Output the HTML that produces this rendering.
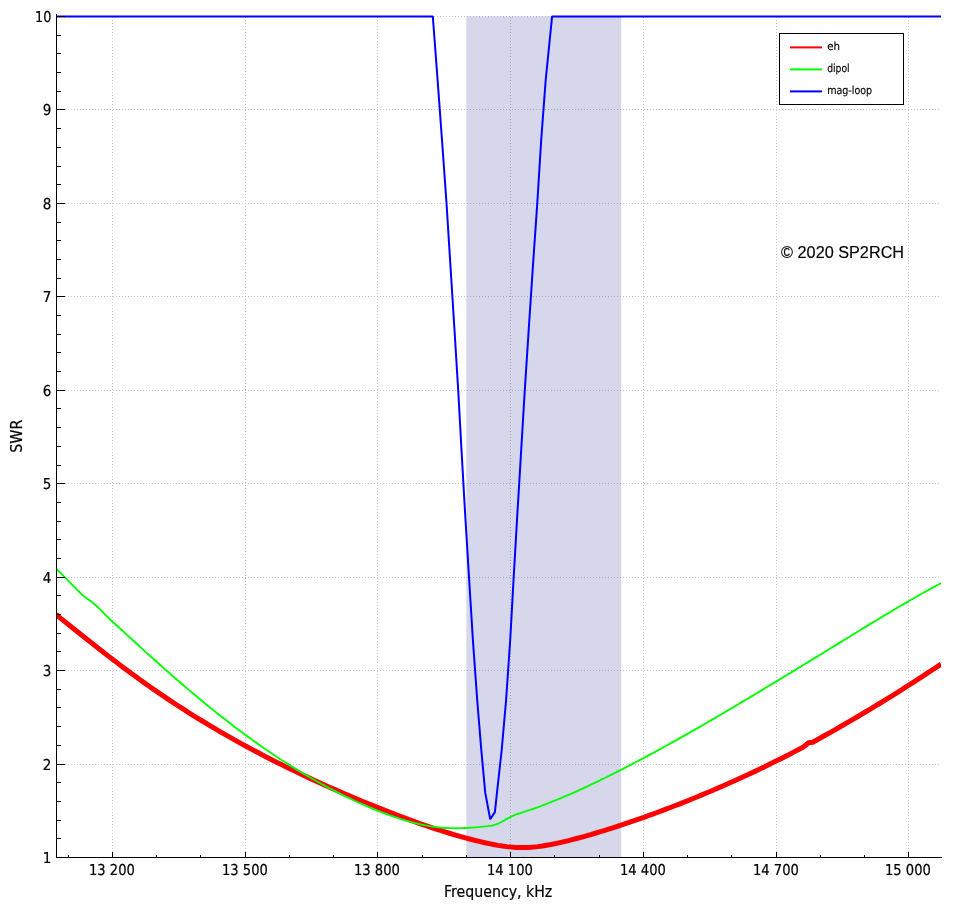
<!DOCTYPE html>
<html lang="en">
<head>
<meta charset="utf-8">
<title>SWR vs Frequency</title>
<style>
html,body{margin:0;padding:0;background:#fff;}
body{width:956px;height:907px;overflow:hidden;font-family:"Liberation Sans",sans-serif;}
svg{display:block;}
</style>
</head>
<body>
<svg width="956" height="907" viewBox="0 0 956 907">
<rect x="0" y="0" width="956" height="907" fill="#fff"/>
<g stroke="#c8c8c8" stroke-width="1" stroke-dasharray="1 2" shape-rendering="crispEdges" fill="none">
<line x1="56" y1="764.5" x2="941" y2="764.5"/>
<line x1="56" y1="670.5" x2="941" y2="670.5"/>
<line x1="56" y1="577.5" x2="941" y2="577.5"/>
<line x1="56" y1="483.5" x2="941" y2="483.5"/>
<line x1="56" y1="390.5" x2="941" y2="390.5"/>
<line x1="56" y1="296.5" x2="941" y2="296.5"/>
<line x1="56" y1="203.5" x2="941" y2="203.5"/>
<line x1="56" y1="109.5" x2="941" y2="109.5"/>
<line x1="56" y1="16.5" x2="941" y2="16.5"/>
<line x1="112.5" y1="858" x2="112.5" y2="16"/>
<line x1="245.5" y1="858" x2="245.5" y2="16"/>
<line x1="377.5" y1="858" x2="377.5" y2="16"/>
<line x1="510.5" y1="858" x2="510.5" y2="16"/>
<line x1="643.5" y1="858" x2="643.5" y2="16"/>
<line x1="776.5" y1="858" x2="776.5" y2="16"/>
<line x1="908.5" y1="858" x2="908.5" y2="16"/>
</g>
<rect x="466.35" y="16.4" width="154.87" height="841.6" fill="rgb(0,0,128)" fill-opacity="0.157"/>
<clipPath id="c"><rect x="56" y="13" width="885" height="847"/></clipPath>
<g clip-path="url(#c)" fill="none" stroke-linejoin="round" stroke-linecap="butt">
<path d="M56.0,614.55 L60.4,618.09 L64.8,621.64 L69.3,625.18 L73.7,628.72 L78.1,632.26 L82.5,635.78 L86.9,639.30 L91.4,642.80 L95.8,646.28 L100.2,649.75 L104.6,653.20 L109.0,656.62 L113.5,660.02 L117.9,663.39 L122.3,666.73 L126.7,670.03 L131.1,673.30 L135.6,676.53 L140.0,679.73 L144.4,682.88 L148.8,686.01 L153.2,689.09 L157.7,692.14 L162.1,695.15 L166.5,698.13 L170.9,701.08 L175.3,703.99 L179.8,706.87 L184.2,709.71 L188.6,712.52 L193.0,715.30 L197.4,718.05 L201.9,720.76 L206.3,723.45 L210.7,726.10 L215.1,728.72 L219.5,731.31 L224.0,733.88 L228.4,736.41 L232.8,738.91 L237.2,741.38 L241.6,743.83 L246.1,746.24 L250.5,748.63 L254.9,750.99 L259.3,753.33 L263.7,755.64 L268.2,757.92 L272.6,760.17 L277.0,762.41 L281.4,764.61 L285.8,766.80 L290.3,768.96 L294.7,771.09 L299.1,773.21 L303.5,775.30 L307.9,777.37 L312.4,779.42 L316.8,781.45 L321.2,783.46 L325.6,785.44 L330.0,787.41 L334.5,789.36 L338.9,791.29 L343.3,793.20 L347.7,795.10 L352.1,796.98 L356.6,798.83 L361.0,800.68 L365.4,802.50 L369.8,804.32 L374.2,806.11 L378.7,807.89 L383.1,809.65 L387.5,811.40 L391.9,813.13 L396.3,814.84 L400.8,816.53 L405.2,818.19 L409.6,819.83 L414.0,821.44 L418.4,823.03 L422.9,824.58 L427.3,826.10 L431.7,827.60 L436.1,829.06 L440.5,830.48 L445.0,831.88 L449.4,833.24 L453.8,834.56 L458.2,835.85 L462.6,837.11 L467.1,838.32 L471.5,839.49 L475.9,840.62 L480.3,841.69 L484.7,842.71 L489.2,843.67 L493.6,844.55 L498.0,845.35 L502.4,846.04 L506.8,846.63 L511.3,847.09 L515.7,847.40 L520.1,847.56 L524.5,847.56 L528.9,847.40 L533.4,847.08 L537.8,846.62 L542.2,846.03 L546.6,845.32 L551.0,844.52 L555.5,843.63 L559.9,842.67 L564.3,841.65 L568.7,840.57 L573.1,839.44 L577.6,838.27 L582.0,837.06 L586.4,835.82 L590.8,834.54 L595.2,833.24 L599.7,831.91 L604.1,830.55 L608.5,829.17 L612.9,827.76 L617.3,826.33 L621.8,824.87 L626.2,823.40 L630.6,821.90 L635.0,820.38 L639.4,818.84 L643.9,817.28 L648.3,815.70 L652.7,814.10 L657.1,812.48 L661.5,810.84 L666.0,809.18 L670.4,807.50 L674.8,805.79 L679.2,804.07 L683.6,802.33 L688.1,800.56 L692.5,798.78 L696.9,796.98 L701.3,795.15 L705.7,793.30 L710.2,791.44 L714.6,789.55 L719.0,787.64 L723.4,785.71 L727.8,783.76 L732.3,781.79 L736.7,779.80 L741.1,777.78 L745.5,775.74 L749.9,773.69 L754.4,771.61 L758.8,769.50 L763.2,767.38 L767.6,765.23 L772.0,763.06 L776.5,760.87 L780.9,758.66 L785.3,756.42 L789.7,754.16 L794.1,751.88 L798.6,749.57 L803.0,747.24 L808.6,742.70 L812.8,742.19 L817.2,739.75 L821.6,737.28 L826.1,734.81 L830.5,732.31 L834.9,729.80 L839.3,727.27 L843.7,724.73 L848.2,722.16 L852.6,719.58 L857.0,716.99 L861.4,714.37 L865.8,711.74 L870.3,709.09 L874.7,706.42 L879.1,703.74 L883.5,701.03 L887.9,698.31 L892.4,695.57 L896.8,692.81 L901.2,690.03 L905.6,687.23 L910.0,684.41 L914.5,681.57 L918.9,678.72 L923.3,675.84 L927.7,672.94 L932.1,670.02 L936.6,667.08 L941.0,664.12" stroke="#f00" stroke-width="5"/>
<path d="M54.5,567.00 L56.9,569.40 L65.1,577.60 L74.0,586.60 L82.7,595.30 L87.0,598.50 L91.5,601.60 L96.0,605.50 L100.3,609.60 L106.0,615.40 L111.6,621.00 L116.0,624.69 L120.4,628.79 L124.8,632.88 L129.3,636.96 L133.7,641.02 L138.1,645.06 L142.5,649.08 L146.9,653.09 L151.4,657.08 L155.8,661.04 L160.2,664.99 L164.6,668.91 L169.0,672.80 L173.5,676.67 L177.9,680.51 L182.3,684.32 L186.7,688.11 L191.1,691.86 L195.6,695.58 L200.0,699.27 L204.4,702.92 L208.8,706.53 L213.2,710.12 L217.7,713.66 L222.1,717.16 L226.5,720.62 L230.9,724.04 L235.3,727.42 L239.8,730.76 L244.2,734.04 L248.6,737.29 L253.0,740.48 L257.4,743.64 L261.9,746.74 L266.3,749.80 L270.7,752.81 L275.1,755.78 L279.5,758.69 L284.0,761.56 L288.4,764.38 L292.8,767.15 L297.2,769.88 L301.6,772.55 L306.1,775.18 L310.5,777.76 L314.9,780.29 L319.3,782.76 L323.7,785.19 L328.2,787.57 L332.6,789.89 L337.0,792.17 L341.4,794.39 L345.8,796.56 L350.3,798.68 L354.7,800.75 L359.1,802.77 L363.5,804.73 L367.9,806.64 L372.4,808.50 L376.8,810.30 L381.2,812.05 L385.6,813.74 L390.0,815.37 L394.5,816.93 L398.9,818.41 L403.3,819.80 L407.7,821.11 L412.1,822.33 L416.6,823.45 L421.0,824.46 L425.4,825.36 L429.8,826.15 L434.2,826.81 L438.7,827.34 L443.1,827.74 L447.5,828.02 L451.9,828.17 L456.3,828.21 L460.8,828.15 L465.2,827.99 L469.6,827.76 L474.0,827.45 L478.4,827.08 L482.9,826.65 L487.3,826.18 L492.0,825.60 L495.3,824.60 L498.9,823.30 L502.0,821.70 L505.5,819.60 L510.2,817.10 L513.5,815.50 L516.8,814.22 L521.2,812.84 L525.6,811.41 L530.1,809.92 L534.5,808.38 L538.9,806.78 L543.3,805.14 L547.7,803.44 L552.2,801.70 L556.6,799.91 L561.0,798.07 L565.4,796.20 L569.8,794.29 L574.3,792.33 L578.7,790.35 L583.1,788.33 L587.5,786.27 L591.9,784.19 L596.4,782.08 L600.8,779.94 L605.2,777.77 L609.6,775.59 L614.0,773.38 L618.5,771.15 L622.9,768.89 L627.3,766.62 L631.7,764.33 L636.1,762.01 L640.6,759.68 L645.0,757.32 L649.4,754.95 L653.8,752.56 L658.2,750.16 L662.7,747.73 L667.1,745.29 L671.5,742.84 L675.9,740.37 L680.3,737.89 L684.8,735.39 L689.2,732.88 L693.6,730.35 L698.0,727.82 L702.4,725.27 L706.9,722.71 L711.3,720.14 L715.7,717.56 L720.1,714.97 L724.5,712.37 L729.0,709.77 L733.4,707.15 L737.8,704.53 L742.2,701.90 L746.6,699.27 L751.1,696.63 L755.5,693.98 L759.9,691.32 L764.3,688.66 L768.7,686.00 L773.2,683.33 L777.6,680.65 L782.0,677.97 L786.4,675.29 L790.8,672.60 L795.3,669.91 L799.7,667.21 L804.1,664.52 L808.5,661.82 L812.9,659.11 L817.4,656.41 L821.8,653.70 L826.2,650.99 L830.6,648.28 L835.0,645.57 L839.5,642.86 L843.9,640.15 L848.3,637.44 L852.7,634.73 L857.1,632.02 L861.6,629.31 L866.0,626.62 L870.4,623.93 L874.8,621.24 L879.2,618.57 L883.7,615.91 L888.1,613.27 L892.5,610.64 L896.9,608.02 L901.3,605.43 L905.8,602.85 L910.2,600.30 L914.6,597.76 L919.0,595.26 L923.4,592.77 L927.9,590.32 L932.3,587.89 L936.7,585.50 L941.1,583.14" stroke="#0f0" stroke-width="1.9"/>
<path d="M54.0,16.4 L432.8,16.4 L437.6,80.0 L442.0,140.0 L446.5,203.0 L450.4,265.0 L454.5,330.0 L458.2,390.0 L461.5,450.0 L465.2,515.0 L469.0,577.0 L472.9,640.0 L477.2,700.0 L481.3,750.0 L485.2,792.4 L490.2,819.2 L494.9,812.1 L497.0,792.4 L501.7,750.0 L506.1,700.0 L510.2,640.0 L513.7,577.0 L517.3,515.0 L521.2,450.0 L524.8,390.0 L528.7,330.0 L533.0,265.0 L537.3,203.0 L541.2,140.0 L545.7,80.0 L552.1,16.4 L943.0,16.4" stroke="#00f" stroke-width="2" stroke-linejoin="bevel"/>
</g>
<g stroke="#000" stroke-width="1" shape-rendering="crispEdges" fill="none">
<line x1="56.5" y1="14" x2="56.5" y2="858"/>
<line x1="56" y1="857.5" x2="942" y2="857.5"/>
<line x1="56" y1="857.5" x2="65" y2="857.5"/>
<line x1="56" y1="764.5" x2="65" y2="764.5"/>
<line x1="56" y1="670.5" x2="65" y2="670.5"/>
<line x1="56" y1="577.5" x2="65" y2="577.5"/>
<line x1="56" y1="483.5" x2="65" y2="483.5"/>
<line x1="56" y1="390.5" x2="65" y2="390.5"/>
<line x1="56" y1="296.5" x2="65" y2="296.5"/>
<line x1="56" y1="203.5" x2="65" y2="203.5"/>
<line x1="56" y1="109.5" x2="65" y2="109.5"/>
<line x1="56" y1="16.5" x2="65" y2="16.5"/>
<line x1="56" y1="838.5" x2="61" y2="838.5"/>
<line x1="56" y1="820.5" x2="61" y2="820.5"/>
<line x1="56" y1="801.5" x2="61" y2="801.5"/>
<line x1="56" y1="782.5" x2="61" y2="782.5"/>
<line x1="56" y1="745.5" x2="61" y2="745.5"/>
<line x1="56" y1="726.5" x2="61" y2="726.5"/>
<line x1="56" y1="707.5" x2="61" y2="707.5"/>
<line x1="56" y1="689.5" x2="61" y2="689.5"/>
<line x1="56" y1="651.5" x2="61" y2="651.5"/>
<line x1="56" y1="633.5" x2="61" y2="633.5"/>
<line x1="56" y1="614.5" x2="61" y2="614.5"/>
<line x1="56" y1="595.5" x2="61" y2="595.5"/>
<line x1="56" y1="558.5" x2="61" y2="558.5"/>
<line x1="56" y1="539.5" x2="61" y2="539.5"/>
<line x1="56" y1="521.5" x2="61" y2="521.5"/>
<line x1="56" y1="502.5" x2="61" y2="502.5"/>
<line x1="56" y1="465.5" x2="61" y2="465.5"/>
<line x1="56" y1="446.5" x2="61" y2="446.5"/>
<line x1="56" y1="427.5" x2="61" y2="427.5"/>
<line x1="56" y1="408.5" x2="61" y2="408.5"/>
<line x1="56" y1="371.5" x2="61" y2="371.5"/>
<line x1="56" y1="352.5" x2="61" y2="352.5"/>
<line x1="56" y1="334.5" x2="61" y2="334.5"/>
<line x1="56" y1="315.5" x2="61" y2="315.5"/>
<line x1="56" y1="278.5" x2="61" y2="278.5"/>
<line x1="56" y1="259.5" x2="61" y2="259.5"/>
<line x1="56" y1="240.5" x2="61" y2="240.5"/>
<line x1="56" y1="222.5" x2="61" y2="222.5"/>
<line x1="56" y1="184.5" x2="61" y2="184.5"/>
<line x1="56" y1="166.5" x2="61" y2="166.5"/>
<line x1="56" y1="147.5" x2="61" y2="147.5"/>
<line x1="56" y1="128.5" x2="61" y2="128.5"/>
<line x1="56" y1="91.5" x2="61" y2="91.5"/>
<line x1="56" y1="72.5" x2="61" y2="72.5"/>
<line x1="56" y1="53.5" x2="61" y2="53.5"/>
<line x1="56" y1="35.5" x2="61" y2="35.5"/>
<line x1="112.5" y1="858" x2="112.5" y2="852"/>
<line x1="245.5" y1="858" x2="245.5" y2="852"/>
<line x1="377.5" y1="858" x2="377.5" y2="852"/>
<line x1="510.5" y1="858" x2="510.5" y2="852"/>
<line x1="643.5" y1="858" x2="643.5" y2="852"/>
<line x1="776.5" y1="858" x2="776.5" y2="852"/>
<line x1="908.5" y1="858" x2="908.5" y2="852"/>
<line x1="68.5" y1="858" x2="68.5" y2="855"/>
<line x1="156.5" y1="858" x2="156.5" y2="855"/>
<line x1="200.5" y1="858" x2="200.5" y2="855"/>
<line x1="289.5" y1="858" x2="289.5" y2="855"/>
<line x1="333.5" y1="858" x2="333.5" y2="855"/>
<line x1="422.5" y1="858" x2="422.5" y2="855"/>
<line x1="466.5" y1="858" x2="466.5" y2="855"/>
<line x1="554.5" y1="858" x2="554.5" y2="855"/>
<line x1="599.5" y1="858" x2="599.5" y2="855"/>
<line x1="687.5" y1="858" x2="687.5" y2="855"/>
<line x1="731.5" y1="858" x2="731.5" y2="855"/>
<line x1="820.5" y1="858" x2="820.5" y2="855"/>
<line x1="864.5" y1="858" x2="864.5" y2="855"/>
</g>
<g font-family="'DejaVu Sans Condensed','DejaVu Sans','Liberation Sans',sans-serif" font-size="15" fill="#000" stroke="#000" stroke-width="0.2" text-rendering="geometricPrecision">
<text x="51.3" y="862.9" text-anchor="end" textLength="8.6" lengthAdjust="spacingAndGlyphs">1</text>
<text x="51.3" y="769.9" text-anchor="end" textLength="8.6" lengthAdjust="spacingAndGlyphs">2</text>
<text x="51.3" y="675.9" text-anchor="end" textLength="8.6" lengthAdjust="spacingAndGlyphs">3</text>
<text x="51.3" y="582.9" text-anchor="end" textLength="8.6" lengthAdjust="spacingAndGlyphs">4</text>
<text x="51.3" y="488.9" text-anchor="end" textLength="8.6" lengthAdjust="spacingAndGlyphs">5</text>
<text x="51.3" y="395.9" text-anchor="end" textLength="8.6" lengthAdjust="spacingAndGlyphs">6</text>
<text x="51.3" y="301.9" text-anchor="end" textLength="8.6" lengthAdjust="spacingAndGlyphs">7</text>
<text x="51.3" y="208.9" text-anchor="end" textLength="8.6" lengthAdjust="spacingAndGlyphs">8</text>
<text x="51.3" y="114.9" text-anchor="end" textLength="8.6" lengthAdjust="spacingAndGlyphs">9</text>
<text x="51.3" y="21.9" text-anchor="end" textLength="16.3" lengthAdjust="spacingAndGlyphs">10</text>
<text x="111.9" y="874.95" text-anchor="middle" textLength="45.9" lengthAdjust="spacingAndGlyphs">13 200</text>
<text x="244.9" y="874.95" text-anchor="middle" textLength="45.9" lengthAdjust="spacingAndGlyphs">13 500</text>
<text x="376.9" y="874.95" text-anchor="middle" textLength="45.9" lengthAdjust="spacingAndGlyphs">13 800</text>
<text x="509.9" y="874.95" text-anchor="middle" textLength="45.9" lengthAdjust="spacingAndGlyphs">14 100</text>
<text x="642.9" y="874.95" text-anchor="middle" textLength="45.9" lengthAdjust="spacingAndGlyphs">14 400</text>
<text x="775.9" y="874.95" text-anchor="middle" textLength="45.9" lengthAdjust="spacingAndGlyphs">14 700</text>
<text x="907.9" y="874.95" text-anchor="middle" textLength="45.9" lengthAdjust="spacingAndGlyphs">15 000</text>
</g>
<g font-family="'DejaVu Sans Condensed','DejaVu Sans','Liberation Sans',sans-serif" font-size="16" fill="#000" stroke="#000" stroke-width="0.2">
<text x="498.2" y="896.7" text-anchor="middle" textLength="108.2" lengthAdjust="spacingAndGlyphs">Frequency, kHz</text>
<text transform="translate(21.8,436.25) rotate(-90)" text-anchor="middle" textLength="33.2" lengthAdjust="spacingAndGlyphs">SWR</text>
</g>
<rect x="779.5" y="33.5" width="124" height="71" fill="#fff" stroke="#000" stroke-width="1" shape-rendering="crispEdges"/>
<g stroke-width="2" fill="none">
<line x1="790" y1="47.4" x2="822" y2="47.4" stroke="#f00"/>
<line x1="790" y1="69.4" x2="822" y2="69.4" stroke="#0f0"/>
<line x1="790" y1="91.4" x2="822" y2="91.4" stroke="#00f"/>
</g>
<g font-family="'DejaVu Sans Condensed','DejaVu Sans','Liberation Sans',sans-serif" font-size="11.1" fill="#000" stroke="#000" stroke-width="0.15" text-rendering="geometricPrecision">
<text x="827.2" y="50.15" textLength="12.8" lengthAdjust="spacingAndGlyphs">eh</text>
<text x="827.2" y="72.15" textLength="22.5" lengthAdjust="spacingAndGlyphs">dipol</text>
<text x="827.2" y="94.15" textLength="45.0" lengthAdjust="spacingAndGlyphs">mag-loop</text>
</g>
<text x="781.1" y="257.9" font-family="'Liberation Sans',sans-serif" font-size="16" fill="#000" stroke="#000" stroke-width="0.15" textLength="123" lengthAdjust="spacingAndGlyphs">© 2020 SP2RCH</text>
</svg>
</body>
</html>
